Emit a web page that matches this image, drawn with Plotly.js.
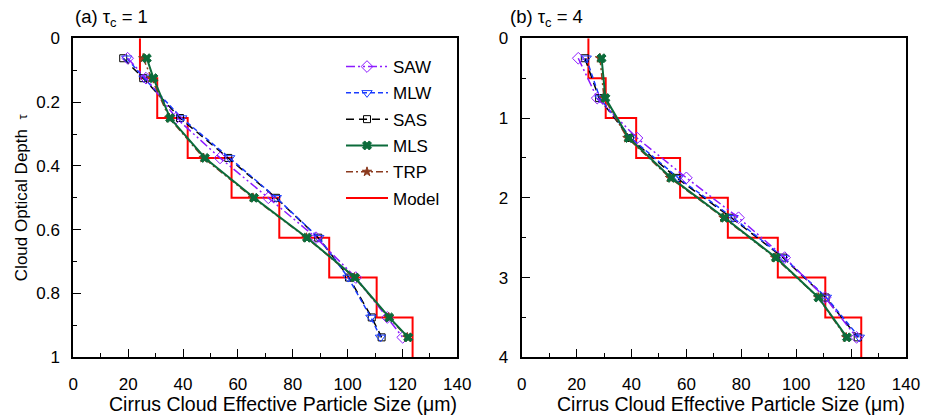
<!DOCTYPE html>
<html><head><meta charset="utf-8">
<script src="https://cdn.plot.ly/plotly-3.0.1.min.js"></script>
<style>html,body{margin:0;padding:0;background:#fff}#chart{width:932px;height:419px}</style>
</head><body><div id="chart"></div>
<script>
// ---- Data ----
// Panel (a) tau_c = 1
const tauA = [0.0625, 0.125, 0.25, 0.375, 0.5, 0.625, 0.75, 0.875, 0.9375];
const sawA = [19.8, 26.5, 37.5, 53.5, 71.1, 88.5, 103.0, 114.5, 120.1];
const mlwA = [19.5, 25.8, 39.5, 57.0, 74.0, 89.5, 100.2, 108.5, 112.0];
const sasA = [18.2, 25.5, 38.9, 56.5, 73.9, 89.3, 100.5, 108.8, 112.4];
const mlsA = [26.8, 29.2, 35.3, 48.0, 65.9, 85.2, 102.7, 115.2, 122.1];
const trpA = [25.5, 28.5, 35.0, 47.5, 65.5, 85.0, 102.5, 115.0, 121.8];
// Panel (b) tau_c = 4
const tauB = [0.25, 0.75, 1.25, 1.75, 2.25, 2.75, 3.25, 3.75];
const sawB = [20.6, 27.5, 42.0, 60.0, 79.0, 95.8, 110.5, 122.0];
const mlwB = [23.5, 28.5, 39.8, 57.0, 77.0, 95.5, 111.0, 123.0];
const sasB = [23.0, 28.2, 39.4, 56.4, 76.4, 95.2, 110.7, 122.4];
const mlsB = [29.1, 30.5, 39.0, 54.5, 73.9, 92.6, 108.1, 118.5];
const trpB = [28.5, 30.0, 38.5, 54.0, 73.5, 92.3, 108.0, 118.2];
// Model layered profile (effective size per layer, 8 equal layers)
const modelR = [24.3, 30.6, 41.7, 57.7, 75.1, 93.3, 110.6, 123.7];
const layerTopsA = [0, 0.125, 0.25, 0.375, 0.5, 0.625, 0.75, 0.875, 1.0];
const layerTopsB = [0, 0.5, 1.0, 1.5, 2.0, 2.5, 3.0, 3.5, 4.0];
const seriesNames = ['SAW', 'MLW', 'SAS', 'MLS', 'TRP', 'Model'];
const xTickVals = [0, 20, 40, 60, 80, 100, 120, 140];
const xTitle = 'Cirrus Cloud Effective Particle Size (μm)';

// ---- Styles ----
const FONT = 'Liberation Sans, Arial, sans-serif';
const styles = {
  SAW: {color: '#8c1aff', dash: '9px,3px,2px,3px,2px,3px', symbol: 'diamond-open', size: 9, width: 1.5},
  MLW: {color: '#1a3cff', dash: '5px,3px', symbol: 'triangle-down-open', size: 9, width: 1.5},
  SAS: {color: '#000000', dash: '8px,5px', symbol: 'square-open', size: 7, width: 1.5},
  MLS: {color: '#0b6b3a', dash: 'solid', symbol: 'x', size: 8, width: 2},
  TRP: {color: '#8b3a1e', dash: '7px,3px,2px,3px', symbol: 'star', size: 7, width: 1.5}
};

function retrieval(name, xs, ys, xa, ya, show, rank) {
  const s = styles[name];
  return {
    x: xs, y: ys, xaxis: xa, yaxis: ya, type: 'scatter', mode: 'lines+markers',
    name: name, showlegend: show, legendgroup: name, legendrank: rank,
    line: {color: s.color, dash: s.dash, width: s.width},
    marker: {symbol: s.symbol, size: s.size, color: s.color, line: {color: s.color, width: 1}}
  };
}
function model(tops, xa, ya, show) {
  const xs = modelR.concat([modelR[modelR.length - 1]]);
  return {
    x: xs, y: tops, xaxis: xa, yaxis: ya, type: 'scatter', mode: 'lines',
    line: {shape: 'vh', color: '#ff0000', width: 2},
    name: 'Model', showlegend: show, legendgroup: 'Model', legendrank: 6
  };
}

const data = [
  model(layerTopsA, 'x', 'y', true),
  model(layerTopsB, 'x2', 'y2', false),
  retrieval('SAS', sasA, tauA, 'x', 'y', true, 3),
  retrieval('MLW', mlwA, tauA, 'x', 'y', true, 2),
  retrieval('SAW', sawA, tauA, 'x', 'y', true, 1),
  retrieval('TRP', trpA, tauA, 'x', 'y', true, 5),
  retrieval('MLS', mlsA, tauA, 'x', 'y', true, 4),
  retrieval('SAS', sasB, tauB, 'x2', 'y2', false, 3),
  retrieval('MLW', mlwB, tauB, 'x2', 'y2', false, 2),
  retrieval('SAW', sawB, tauB, 'x2', 'y2', false, 1),
  retrieval('TRP', trpB, tauB, 'x2', 'y2', false, 5),
  retrieval('MLS', mlsB, tauB, 'x2', 'y2', false, 4)
];

const W = 932, H = 419;
const yDom = [1 - 357.3 / H, 1 - 38.3 / H];
function xaxisDef(dom, anchor) {
  return {
    domain: dom, anchor: anchor, range: [0, 140], tickvals: xTickVals,
    ticks: 'inside', ticklen: 8, tickwidth: 1, tickcolor: '#000',
    minor: {dtick: 10, ticks: 'inside', ticklen: 4, tickwidth: 1, tickcolor: '#000'},
    showline: true, linewidth: 2, linecolor: '#000', mirror: true,
    showgrid: false, zeroline: false, automargin: false,
    tickfont: {family: FONT, size: 17, color: '#000'}, ticklabelstandoff: 10
  };
}
function yaxisDef(range, dtick, mdtick, anchor, withTitle) {
  const a = {
    domain: yDom, anchor: anchor, range: range, dtick: dtick, tick0: 0,
    ticks: 'inside', ticklen: 8, tickwidth: 1, tickcolor: '#000',
    minor: {dtick: mdtick, ticks: 'inside', ticklen: 4, tickwidth: 1, tickcolor: '#000'},
    showline: true, linewidth: 2, linecolor: '#000', mirror: true,
    showgrid: false, zeroline: false, automargin: false,
    tickfont: {family: FONT, size: 17, color: '#000'}, ticklabelstandoff: 8
  };
  if (withTitle) a.title = {text: 'Cloud Optical Depth&nbsp;&nbsp;<span style="font-size:13px">τ</span>', font: {family: FONT, size: 17, color: '#000'}, standoff: 4};
  return a;
}

const layout = {
  width: W, height: H, margin: {l: 0, r: 0, t: 0, b: 0},
  paper_bgcolor: '#fff', plot_bgcolor: '#fff',
  font: {family: FONT, size: 17, color: '#000'},
  xaxis: xaxisDef([73.3 / W, 457.3 / W], 'y'),
  yaxis: yaxisDef([1, 0], 0.2, 0.1, 'x', true),
  xaxis2: xaxisDef([521.7 / W, 906 / W], 'y2'),
  yaxis2: yaxisDef([4, 0], 1, 0.5, 'x2', false),
  showlegend: true,
  legend: {
    x: 341 / W, y: 1 - 49 / H, xanchor: 'left', yanchor: 'top', itemwidth: 42,
    bgcolor: 'rgba(0,0,0,0)', borderwidth: 0, traceorder: 'grouped', tracegroupgap: 1.2,
    font: {family: FONT, size: 17, color: '#000'}
  },
  annotations: [
    {text: '(a) τ<sub>c</sub> = 1', xref: 'paper', yref: 'paper', x: 73 / W, y: 1 - 18 / H,
     xanchor: 'left', yanchor: 'middle', showarrow: false, font: {family: FONT, size: 18.5, color: '#000'}},
    {text: '(b) τ<sub>c</sub> = 4', xref: 'paper', yref: 'paper', x: 508 / W, y: 1 - 18 / H,
     xanchor: 'left', yanchor: 'middle', showarrow: false, font: {family: FONT, size: 18.5, color: '#000'}},
    {text: xTitle, xref: 'paper', yref: 'paper', x: 283 / W, y: 1 - 404 / H,
     xanchor: 'center', yanchor: 'middle', showarrow: false, font: {family: FONT, size: 19.5, color: '#000'}},
    {text: xTitle, xref: 'paper', yref: 'paper', x: 731 / W, y: 1 - 404 / H,
     xanchor: 'center', yanchor: 'middle', showarrow: false, font: {family: FONT, size: 19.5, color: '#000'}}
  ]
};

Plotly.newPlot('chart', data, layout, {staticPlot: true, displayModeBar: false});
</script>
</body></html>
